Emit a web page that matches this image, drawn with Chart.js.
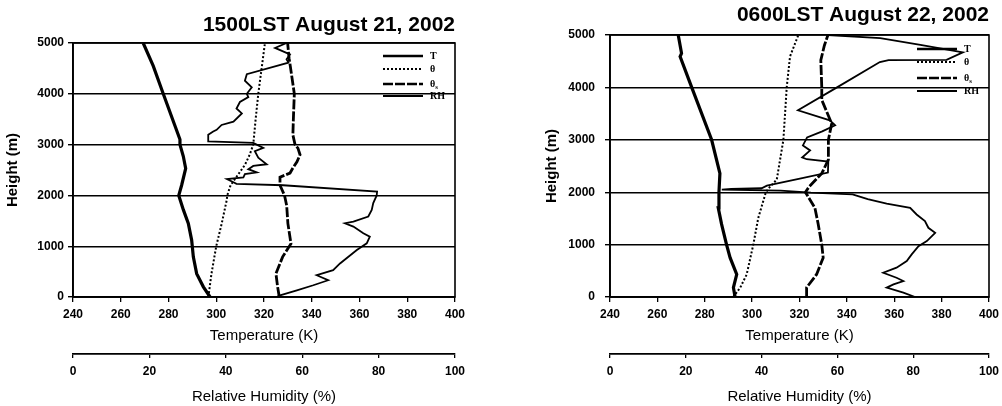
<!DOCTYPE html>
<html>
<head>
<meta charset="utf-8">
<script src="https://cdn.jsdelivr.net/npm/chart.js@4.4.1/dist/chart.umd.min.js"></script>
<style>
    html, body { margin: 0; padding: 0; background: #fff; }
    body { width: 1002px; height: 406px; position: relative; overflow: hidden; }
    .panel { position: absolute; top: 0; height: 406px; }
    #left { left: 0; width: 470px; }
    #right { left: 520px; width: 482px; }
</style>
</head>
<body>
<div class="panel" id="left"><canvas id="chartAug21"></canvas></div>
<div class="panel" id="right"><canvas id="chartAug22"></canvas></div>
<script>
// Axis ranges
const tempRange = [240, 400];
const rhRange = [0, 100];
const heightRange = [0, 5000];

// 1500LST August 21, 2002 (heights in m, temperature in K, RH in %)
const aug21TempHeight = [0, 200, 460, 790, 1120, 1450, 1720, 2000, 2200, 2530, 2770, 3000, 3100, 3370, 4000, 4550, 5000];
const aug21Temp = [297.4, 294.6, 291.8, 290.4, 289.7, 288.3, 286.2, 284.3, 285.5, 287.2, 286.2, 284.8, 284.8, 282.7, 277.8, 273.6, 269.4];

const aug21ThetaHeight = [0, 460, 1000, 1450, 1910, 2000, 2200, 2400, 2600, 2800, 3000, 3500, 4000, 4500, 5000];
const aug21Theta = [296.7, 298, 300, 302.3, 304.4, 304.6, 306, 309, 312, 314, 315.5, 316.5, 317.6, 319, 320.4];

const aug21ThetaSHeight = [0, 200, 460, 790, 1050, 1450, 1800, 2000, 2200, 2360, 2440, 2540, 2660, 2800, 2930, 3000, 3190, 3500, 4000, 4550, 4700, 5000];
const aug21ThetaS = [326.4, 325.7, 325, 327.8, 331.3, 330, 329.5, 328.6, 326.7, 326.7, 330.9, 332.1, 333.8, 335.1, 334.2, 333, 332.1, 332.3, 332.7, 331, 330.5, 329.9];

const aug21RHHeight = [0, 33, 132, 231, 330, 429, 528, 660, 792, 924, 1056, 1188, 1254, 1386, 1452, 1485, 1584, 1716, 1848, 2000,
    2073, 2200, 2226, 2258, 2323, 2355, 2419, 2452, 2516, 2581, 2613, 2742, 2871, 2935, 3032,
    3065, 3194, 3258, 3290, 3387, 3452, 3613, 3710, 3839, 3935, 4000, 4129, 4258, 4387, 4613, 4677, 4774, 4903, 5000];
const aug21RH = [53.3, 54.2, 58.6, 62.9, 66.8, 63.8, 68.1, 69.9, 72.1, 74.3, 76.9, 77.7, 76.0, 73.4, 71.2, 73.4, 77.3, 78.2, 78.6, 79.5,
    79.6, 55.0, 42.8, 42.0, 40.3, 44.6, 45.0, 48.1, 45.9, 47.2, 50.7, 48.5, 47.6, 49.8, 47.2,
    35.4, 35.4, 36.7, 37.6, 38.9, 42.0, 44.2, 42.8, 43.7, 45.9, 45.5, 46.8, 45.0, 45.5, 56.4, 55.9, 56.8, 52.9, 55.9];

// 0600LST August 22, 2002
const aug22TempHeight = [0, 180, 430, 750, 1000, 1390, 1700, 2000, 2360, 3000, 4000, 4590, 4650, 5000];
const aug22Temp = [292.8, 292.1, 293.5, 290.7, 289.2, 287.1, 285.7, 286.0, 286.4, 282.9, 274.5, 269.6, 270.2, 268.8];

const aug22ThetaHeight = [0, 180, 430, 1000, 1510, 2000, 2100, 2240, 3000, 4000, 4590, 5000];
const aug22Theta = [292, 295, 297.7, 300.5, 302.6, 305.8, 307.5, 310.4, 313.2, 314.6, 316, 319.5];

const aug22ThetaSHeight = [0, 180, 430, 750, 1000, 1390, 1700, 2000, 2100, 2360, 2620, 3000, 3310, 3760, 4000, 4520, 4800, 5000];
const aug22ThetaS = [323, 323, 327.2, 330, 329.4, 327.9, 326.5, 322.5, 324, 329.4, 332.2, 332.2, 333.6, 329.4, 329.4, 329, 330.5, 332];

const aug22RHHeight = [0, 83, 178, 241, 305, 368, 463, 559, 686, 813, 971, 1067, 1225, 1321, 1448, 1575, 1702, 1780, 1870, 1960,
    1990, 2030, 2050, 2065, 2075, 2126, 2260, 2375, 2584, 2629, 2663, 2797, 2893, 3046, 3160, 3276, 3372, 3563,
    4000, 4483, 4521, 4525, 4670, 4810, 4940, 5000];
const aug22RH = [80.5, 77.4, 73.0, 74.8, 77.4, 75.6, 72.1, 75.6, 78.3, 79.6, 81.4, 83.6, 85.8, 84.0, 83.1, 80.9, 79.2, 73.0, 68.0, 64.0,
    53.0, 45.0, 29.5, 32.0, 40.0, 41.4, 50.1, 57.5, 57.6, 51.9, 50.7, 52.8, 50.9, 52.0, 56.0, 59.4, 58.0, 49.6,
    59.9, 71.2, 73.5, 88.8, 93.1, 81.9, 71.3, 57.5];

const seriesLabels = ["T", "θ", "θs", "RH"];

function toPoints(values, heights) {
    return values.map((v, i) => ({ x: v, y: heights[i] }));
}

function makeDatasets(temp, tempH, theta, thetaH, thetaS, thetaSH, rh, rhH) {
    const base = { showLine: true, pointRadius: 0, borderColor: "#000", backgroundColor: "#000", tension: 0, fill: false };
    return [
        { ...base, label: seriesLabels[0], data: toPoints(temp, tempH), borderWidth: 3.2, xAxisID: "x" },
        { ...base, label: seriesLabels[1], data: toPoints(theta, thetaH), borderWidth: 2, borderDash: [2, 2], xAxisID: "x" },
        { ...base, label: seriesLabels[2], data: toPoints(thetaS, thetaSH), borderWidth: 2.8, borderDash: [10, 2], xAxisID: "x" },
        { ...base, label: seriesLabels[3], data: toPoints(rh, rhH), borderWidth: 1.8, xAxisID: "xRH" },
    ];
}

// box around the plot area
const framePlugin = {
    id: "frame",
    beforeDatasetsDraw(chart) {
        const { ctx, chartArea: a } = chart;
        ctx.save();
        ctx.strokeStyle = "#000";
        ctx.lineWidth = 1.6;
        ctx.strokeRect(a.left, a.top, a.width, a.height);
        ctx.restore();
    },
};

// legend drawn inside the top-right corner, like the original
const profileLegend = {
    id: "profileLegend",
    afterDatasetsDraw(chart, args, opts) {
        const { ctx, chartArea: a } = chart;
        ctx.save();
        chart.data.datasets.forEach((ds, i) => {
            const y = a.top + opts.rows[i];
            ctx.beginPath();
            ctx.setLineDash(ds.borderDash || []);
            ctx.lineWidth = Math.min(ds.borderWidth, 2.6);
            ctx.strokeStyle = "#000";
            ctx.moveTo(a.right - 72, y);
            ctx.lineTo(a.right - 32, y);
            ctx.stroke();
            ctx.setLineDash([]);
            ctx.fillStyle = "#000";
            ctx.textBaseline = "middle";
            ctx.font = "bold 10px 'Liberation Serif', serif";
            const text = ds.label === "θs" ? "θ" : ds.label;
            ctx.fillText(text, a.right - 25, y);
            if (ds.label === "θs") {
                const w = ctx.measureText("θ").width;
                ctx.font = "bold 7px 'Liberation Serif', serif";
                ctx.fillText("s", a.right - 25 + w, y + 3);
            }
        });
        ctx.restore();
    },
};

function buildOptions(p) {
    const tickFont = { size: 12, weight: "bold" };
    return {
        responsive: true,
        maintainAspectRatio: false,
        animation: false,
        layout: { padding: { left: 0, right: p.padRight, top: 0, bottom: 0 } },
        plugins: {
            legend: { display: false },
            tooltip: { enabled: false },
            title: {
                display: true,
                text: p.title,
                align: "end",
                color: "#000",
                font: { size: 21, weight: "bold" },
                padding: p.titlePad,
            },
            profileLegend: { rows: p.legendRows },
        },
        scales: {
            x: {
                type: "linear",
                position: "bottom",
                min: tempRange[0],
                max: tempRange[1],
                ticks: { stepSize: 20, font: tickFont, color: "#000", padding: 5 },
                grid: { drawOnChartArea: false, color: "#000", tickLength: 5, lineWidth: 1.3 },
                border: { color: "#000", width: 1.8 },
                title: { display: true, text: "Temperature (K)", color: "#000", font: { size: 15 }, padding: { top: 0, bottom: 9.6 } },
                afterFit: (s) => { s.paddingLeft = 0; s.paddingRight = 0; },
            },
            xRH: {
                type: "linear",
                position: "bottom",
                weight: 1,
                min: rhRange[0],
                max: rhRange[1],
                ticks: { stepSize: 20, font: tickFont, color: "#000", padding: 6 },
                grid: { drawOnChartArea: false, color: "#000", tickLength: 4, lineWidth: 1.3 },
                border: { color: "#000", width: 1.8 },
                title: { display: true, text: "Relative Humidity (%)", color: "#000", font: { size: 15 }, padding: { top: 3.6, bottom: 0 } },
                afterFit: (s) => { s.paddingLeft = 0; s.paddingRight = 0; },
            },
            y: {
                type: "linear",
                min: heightRange[0],
                max: heightRange[1],
                ticks: { stepSize: 1000, font: tickFont, color: "#000", padding: p.yTickPad, callback: (v) => String(v) },
                grid: { color: "#000", lineWidth: 1.4, tickLength: 5 },
                border: { color: "#000", width: 1.8 },
                title: { display: true, text: "Height (m)", color: "#000", font: { size: 15, weight: "bold" }, padding: { top: p.yTitlePad, bottom: 0 } },
                afterFit: (s) => { s.width = p.yWidth; },
            },
        },
    };
}

Chart.defaults.font.family = "'Liberation Sans', Arial, sans-serif";
Chart.defaults.color = "#000";

new Chart(document.getElementById("chartAug21"), {
    type: "scatter",
    data: { datasets: makeDatasets(aug21Temp, aug21TempHeight, aug21Theta, aug21ThetaHeight, aug21ThetaS, aug21ThetaSHeight, aug21RH, aug21RHHeight) },
    options: buildOptions({
        title: "1500LST August 21, 2002",
        padRight: 15,
        titlePad: { top: 12.5, bottom: 5.3 },
        yWidth: 73,
        yTickPad: 4,
        yTitlePad: 4,
        legendRows: [13, 26, 41, 53],
    }),
    plugins: [framePlugin, profileLegend],
});

new Chart(document.getElementById("chartAug22"), {
    type: "scatter",
    data: { datasets: makeDatasets(aug22Temp, aug22TempHeight, aug22Theta, aug22ThetaHeight, aug22ThetaS, aug22ThetaSHeight, aug22RH, aug22RHHeight) },
    options: buildOptions({
        title: "0600LST August 22, 2002",
        padRight: 13,
        titlePad: { top: 2.4, bottom: 7.4 },
        yWidth: 90,
        yTickPad: 10,
        yTitlePad: 22.5,
        legendRows: [14, 27, 43, 56],
    }),
    plugins: [framePlugin, profileLegend],
});
</script>
</body>
</html>
